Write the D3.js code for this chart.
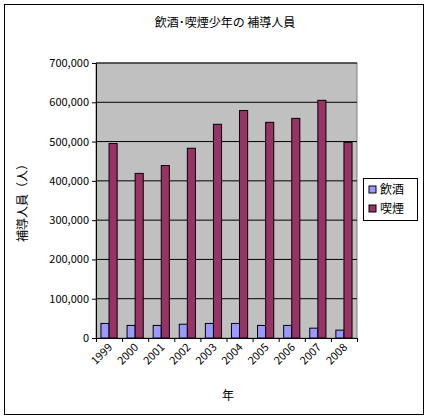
<!DOCTYPE html><html><head><meta charset="utf-8"><script src="https://d3js.org/d3.v7.min.js"></script>
<style>body{margin:0;background:#fff}text{font-family:"Noto Sans CJK JP","MS PGothic",sans-serif}</style></head><body><svg id="c" width="428" height="419"></svg><script>
const years=["1999","2000","2001","2002","2003","2004","2005","2006","2007","2008"];
const drinking=[37000,32000,32000,35000,37000,37000,32000,32000,25000,20000];
const smoking=[495000,419000,439000,483000,544000,579000,549000,559000,605000,498000];
const seriesNames=["飲酒","喫煙"];
const colors=["#9999ff","#993366"];
const yTicks=[0,100000,200000,300000,400000,500000,600000,700000];
const svg=d3.select("#c");
svg.append("rect").attr("x",4.5).attr("y",4.5).attr("width",419).attr("height",410).attr("fill","#fff").attr("stroke","#000");
const L=96,R=357,T=63,B=338;
const x=d3.scaleBand().domain(years).range([L,R]).paddingInner(0.38).paddingOuter(0.19);
const y=d3.scaleLinear().domain([0,700000]).range([B,T]);
svg.append("rect").attr("x",L).attr("y",T).attr("width",R-L).attr("height",B-T).attr("fill","#c0c0c0").attr("stroke","#808080");
svg.append("g").selectAll("line").data(yTicks.slice(1)).join("line").attr("x1",L).attr("x2",R).attr("y1",d=>y(d)).attr("y2",d=>y(d)).attr("stroke","#000");
const bw=x.bandwidth()/2;
[drinking,smoking].forEach((s,k)=>{
 svg.append("g").selectAll("rect").data(s).join("rect").attr("x",(d,i)=>x(years[i])+k*bw).attr("y",d=>y(d)).attr("width",bw).attr("height",d=>B-y(d)).attr("fill",colors[k]).attr("stroke","#000").attr("stroke-width",1);
});
const ya=svg.append("g").attr("transform",`translate(${L},0)`).call(d3.axisLeft(y).tickValues(yTicks).tickFormat(d3.format(",")).tickSize(4));
ya.selectAll("text").attr("font-size",11).attr("font-family","Liberation Sans, Arial");
const xa=svg.append("g").attr("transform",`translate(0,${B})`).call(d3.axisBottom(d3.scaleLinear().domain([0,10]).range([L,R])).ticks(10).tickFormat("").tickSize(4));
xa.select(".domain").attr("stroke","#000");
svg.append("g").selectAll("text").data(years).join("text").attr("font-size",11).attr("font-family","Liberation Sans, Arial").attr("text-anchor","end")
 .attr("transform",d=>`translate(${x(d)+x.bandwidth()/2+4},${B+10}) rotate(-45)`).text(d=>d);
svg.append("text").attr("x",225).attr("y",27).attr("text-anchor","middle").attr("font-size",12).text("飲酒･喫煙少年の 補導人員");
svg.append("text").attr("x",228).attr("y",400).attr("text-anchor","middle").attr("font-size",12).text("年");
svg.append("text").attr("transform","translate(27,200) rotate(-90)").attr("text-anchor","middle").attr("font-size",12).text("補導人員（人）");
const lg=svg.append("g");
lg.append("rect").attr("x",363.5).attr("y",178.5).attr("width",54).attr("height",42).attr("fill","#fff").attr("stroke","#000");
seriesNames.forEach((n,i)=>{
 lg.append("rect").attr("x",369).attr("y",186+i*19).attr("width",7).attr("height",7).attr("fill",colors[i]).attr("stroke","#000");
 lg.append("text").attr("x",380).attr("y",194+i*19).attr("font-size",12).text(n);
});
</script></body></html>
